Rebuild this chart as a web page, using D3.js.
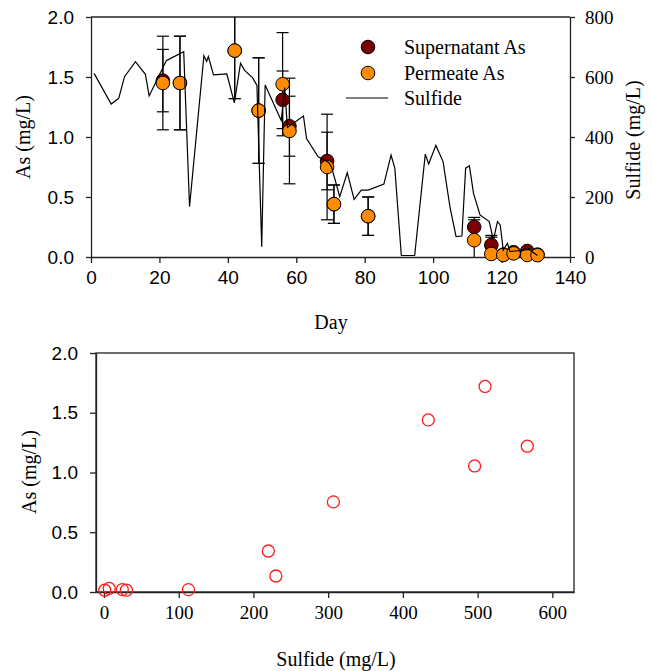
<!DOCTYPE html>
<html>
<head>
<meta charset="utf-8">
<script src="https://cdn.jsdelivr.net/npm/d3@7"></script>
<style>
  body { margin: 0; background: #fff; }
  svg { display: block; }
  .sans { font-family: "Liberation Sans", Arial, sans-serif; }
  .serif { font-family: "Liberation Serif", "Times New Roman", serif; }
</style>
</head>
<body>
<svg id="chart" width="652" height="671"></svg>
<script>
// As samples (day of sampling)
const asDays = [21, 26, 42, 49, 56, 58, 69, 71, 81, 112, 117, 120.5, 123.5, 127.5, 130.5];
const superAs = [1.47, 1.45, 1.72, 1.22, 1.31, 1.09, 0.80, 0.44, 0.34, 0.25, 0.10, 0.02, 0.04, 0.05, 0.02];
const superErr = [0.26, 0.39, 0.40, 0.44, 0.24, 0.25, 0.24, 0.16, 0.16, 0.08, 0.08, 0.01, 0.01, 0.01, 0.01];
const permAs = [1.45, 1.45, 1.72, 1.22, 1.44, 1.05, 0.75, 0.44, 0.34, 0.14, 0.025, 0.017, 0.03, 0.017, 0.015];
const permErr = [0.39, 0.39, 0.40, 0.44, 0.43, 0.44, 0.44, 0.16, 0.16, 0.17, 0.14, 0.01, 0.01, 0.01, 0.01];

// sulfide trace
const sulfDays = [0.9, 5.9, 8.1, 9.8, 13.0, 15.9, 17.0, 22.0, 23.3, 27.1, 28.8, 33.0, 33.8, 34.3, 35.8,
  39.7, 41.9, 43.7, 44.9, 47.2, 48.5, 49.9, 50.9, 55.6, 56.6, 57.4, 62.1, 63.0, 66.4, 69.5, 70.3,
  72.7, 74.9, 76.9, 79.0, 81.0, 85.6, 87.7, 88.8, 90.7, 94.6, 97.7, 98.7, 100.8, 102.9, 104.9,
  106.7, 108.4, 109.5, 110.6, 111.8, 113.7, 116.4, 117.6, 118.8, 119.6, 120.5, 121.7, 122.5,
  124.0, 126.0, 128.0, 130.5];
const sulfVals = [612, 510, 529, 601, 651, 609, 537, 654, 662, 684, 168, 671, 652, 668, 607,
  610, 514, 646, 622, 598, 572, 34, 573, 455, 565, 432, 470, 395, 334, 315, 300,
  201, 281, 192, 223, 223, 243, 340, 296, 5, 5, 343, 310, 372, 318, 168,
  68, 70, 296, 304, 212, 140, 118, 57, 118, 107, 23, 46, 18,
  20, 22, 25, 5];

// As vs sulfide scatter
const scatSulf = [1, 7, 24.5, 30, 113, 220, 230, 307, 434, 496, 510, 566.5];
const scatAs = [0.015, 0.03, 0.02, 0.015, 0.02, 0.343, 0.134, 0.754, 1.44, 1.055, 1.72, 1.22];

const dayTicks = d3.range(0, 141, 20);
const asTicks = [0, 0.5, 1.0, 1.5, 2.0];
const sulfTicks = d3.range(0, 801, 200);
const scatXTicks = d3.range(0, 601, 100);

const svg = d3.select("#chart");
const axisColor = "#222";

function styleAxis(g, cls) {
  g.select(".domain").attr("stroke", axisColor).attr("stroke-width", 1.3);
  g.selectAll(".tick line").attr("stroke", axisColor).attr("stroke-width", 1.3);
  g.selectAll(".tick text").attr("class", cls).attr("fill", "#000").style("font-size", "19px");
}

// ---------- top chart ----------
const box1 = { l: 91, r: 570, t: 17, b: 257 };
const x = d3.scaleLinear().domain([0, 140]).range([box1.l, box1.r]);
const y = d3.scaleLinear().domain([0, 2]).range([box1.b, box1.t]);
const yS = d3.scaleLinear().domain([0, 800]).range([box1.b, box1.t]);

svg.append("clipPath").attr("id", "clipTop")
  .append("rect").attr("x", box1.l).attr("y", box1.t)
  .attr("width", box1.r - box1.l).attr("height", box1.b - box1.t);

svg.append("line")
  .attr("x1", box1.l).attr("x2", box1.r).attr("y1", box1.t).attr("y2", box1.t)
  .attr("stroke", axisColor).attr("stroke-width", 1.3);

svg.append("g").attr("transform", `translate(0,${box1.b})`)
  .call(d3.axisBottom(x).tickValues(dayTicks).tickSize(6).tickSizeOuter(0).tickPadding(8))
  .call(g => styleAxis(g, "sans"));

svg.append("g").attr("transform", `translate(${box1.l},0)`)
  .call(d3.axisLeft(y).tickValues(asTicks).tickFormat(d3.format(".1f")).tickSize(5).tickSizeOuter(0).tickPadding(12))
  .call(g => styleAxis(g, "sans"));

svg.append("g").attr("transform", `translate(${box1.r},0)`)
  .call(d3.axisRight(yS).tickValues(sulfTicks).tickSize(5).tickSizeOuter(0).tickPadding(10))
  .call(g => styleAxis(g, "serif"));

const plot = svg.append("g").attr("clip-path", "url(#clipTop)");

function drawErrors(vals, errs) {
  const rows = asDays.map((d, i) => ({ d, v: vals[i], e: errs[i] }));
  const eb = plot.append("g").attr("stroke", "#000").attr("stroke-width", 1.2);
  eb.selectAll("line.v").data(rows).join("line").attr("class", "v")
    .attr("x1", r => x(r.d)).attr("x2", r => x(r.d))
    .attr("y1", r => y(r.v - r.e)).attr("y2", r => y(r.v + r.e));
  eb.selectAll("line.hi").data(rows).join("line").attr("class", "hi")
    .attr("x1", r => x(r.d) - 6).attr("x2", r => x(r.d) + 6)
    .attr("y1", r => y(r.v + r.e)).attr("y2", r => y(r.v + r.e));
  eb.selectAll("line.lo").data(rows.filter(r => r.v - r.e >= 0)).join("line").attr("class", "lo")
    .attr("x1", r => x(r.d) - 6).attr("x2", r => x(r.d) + 6)
    .attr("y1", r => y(r.v - r.e)).attr("y2", r => y(r.v - r.e));
  return rows;
}

const supRows = drawErrors(superAs, superErr);
const permRows = drawErrors(permAs, permErr);

svg.append("g").selectAll("circle").data(supRows).join("circle")
  .attr("cx", r => x(r.d)).attr("cy", r => y(r.v)).attr("r", 6.8)
  .attr("fill", "#7b0000").attr("stroke", "#000").attr("stroke-width", 1);
svg.append("g").selectAll("circle").data(permRows).join("circle")
  .attr("cx", r => x(r.d)).attr("cy", r => y(r.v)).attr("r", 6.8)
  .attr("fill", "#ff8c00").attr("stroke", "#000").attr("stroke-width", 1);

const sulfLine = d3.line().x(d => x(d[0])).y(d => yS(d[1]));
svg.append("path")
  .datum(sulfDays.map((d, i) => [d, sulfVals[i]]))
  .attr("d", sulfLine).attr("fill", "none")
  .attr("stroke", "#000").attr("stroke-width", 1.2);

// legend
const legend = svg.append("g").attr("class", "serif").style("font-size", "20px");
legend.append("circle").attr("cx", 368).attr("cy", 47).attr("r", 6.8)
  .attr("fill", "#7b0000").attr("stroke", "#000");
legend.append("circle").attr("cx", 368).attr("cy", 73).attr("r", 6.8)
  .attr("fill", "#ff8c00").attr("stroke", "#000");
legend.append("line").attr("x1", 346).attr("x2", 388).attr("y1", 98).attr("y2", 98)
  .attr("stroke", "#000").attr("stroke-width", 1.2);
legend.append("text").attr("x", 404).attr("y", 54).text("Supernatant As");
legend.append("text").attr("x", 404).attr("y", 80).text("Permeate As");
legend.append("text").attr("x", 404).attr("y", 105).text("Sulfide");

// axis titles
svg.append("text").attr("class", "serif").style("font-size", "20px")
  .attr("text-anchor", "middle")
  .attr("transform", "translate(30,137) rotate(-90)").text("As (mg/L)");
svg.append("text").attr("class", "serif").style("font-size", "20px")
  .attr("text-anchor", "middle")
  .attr("transform", "translate(640,140) rotate(-90)").text("Sulfide (mg/L)");
svg.append("text").attr("class", "serif").style("font-size", "20px")
  .attr("text-anchor", "middle").attr("x", 331).attr("y", 329).text("Day");

// ---------- bottom chart ----------
const box2 = { l: 96, r: 574, t: 353, b: 592 };
const x2 = d3.scaleLinear().domain([-10.7, 629]).range([box2.l, box2.r]);
const y2 = d3.scaleLinear().domain([0, 2]).range([box2.b, box2.t]);

svg.append("rect").attr("x", box2.l).attr("y", box2.t)
  .attr("width", box2.r - box2.l).attr("height", box2.b - box2.t)
  .attr("fill", "none").attr("stroke", axisColor).attr("stroke-width", 1.3);

svg.append("g").attr("transform", `translate(0,${box2.b})`)
  .call(d3.axisBottom(x2).tickValues(scatXTicks).tickSize(6).tickSizeOuter(0).tickPadding(8))
  .call(g => styleAxis(g, "serif"));

svg.append("g").attr("transform", `translate(${box2.l},0)`)
  .call(d3.axisLeft(y2).tickValues(asTicks).tickFormat(d3.format(".1f")).tickSize(6).tickSizeOuter(0).tickPadding(12))
  .call(g => styleAxis(g, "sans"));

svg.append("g").selectAll("circle")
  .data(scatSulf.map((s, i) => [s, scatAs[i]]))
  .join("circle")
  .attr("cx", d => x2(d[0])).attr("cy", d => y2(d[1])).attr("r", 6)
  .attr("fill", "none").attr("stroke", "#ff1a1a").attr("stroke-width", 1.3);

svg.append("text").attr("class", "serif").style("font-size", "20px")
  .attr("text-anchor", "middle")
  .attr("transform", "translate(36,472) rotate(-90)").text("As (mg/L)");
svg.append("text").attr("class", "serif").style("font-size", "20px")
  .attr("text-anchor", "middle").attr("x", 336).attr("y", 666).text("Sulfide (mg/L)");
</script>
</body>
</html>
